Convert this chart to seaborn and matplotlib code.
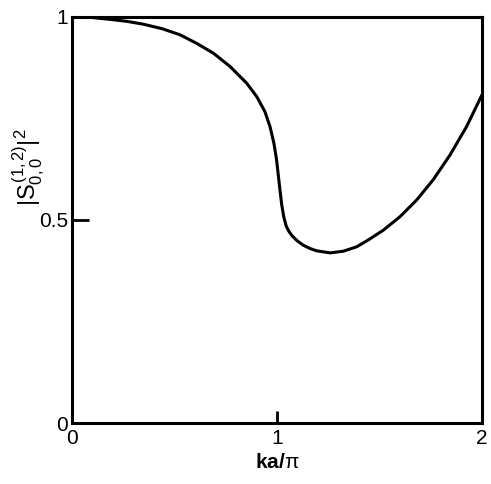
import numpy as np
import pandas as pd
import seaborn as sns
import matplotlib
matplotlib.use("Agg")
import matplotlib.pyplot as plt

sns.set_style("ticks", {"xtick.direction": "in", "ytick.direction": "in",
                        "axes.edgecolor": "black", "text.color": "black",
                        "xtick.color": "black", "ytick.color": "black",
                        "axes.labelcolor": "black"})
plt.rcParams["font.family"] = ["Liberation Sans", "DejaVu Sans"]
plt.rcParams["mathtext.fontset"] = "custom"
plt.rcParams["mathtext.rm"] = "Liberation Sans"
plt.rcParams["mathtext.it"] = "Liberation Sans"

# |S_00^(1,2)|^2 versus ka/pi
ka_pi = [0.0, 0.09, 0.186, 0.27, 0.349, 0.44, 0.527, 0.608, 0.689, 0.771,
         0.852, 0.901, 0.941, 0.966, 0.985, 0.998, 1.011, 1.023, 1.033, 1.045,
         1.058, 1.072, 1.098, 1.128, 1.16, 1.194, 1.259, 1.323, 1.389, 1.446,
         1.519, 1.600, 1.681, 1.762, 1.844, 1.925, 2.0]
s2 = [1.0, 0.999, 0.994, 0.989, 0.982, 0.971, 0.956, 0.935, 0.911, 0.878,
      0.837, 0.804, 0.767, 0.730, 0.689, 0.648, 0.590, 0.538, 0.508, 0.485,
      0.472, 0.462, 0.449, 0.438, 0.430, 0.424, 0.419, 0.423, 0.434, 0.451,
      0.475, 0.508, 0.549, 0.599, 0.660, 0.730, 0.808]

df = pd.DataFrame({"ka": ka_pi, "s": s2})

fig = plt.figure(figsize=(4.91, 4.84), dpi=100)
ax = fig.add_axes([0.1466, 0.126, 0.835, 0.839])

sns.lineplot(data=df, x="ka", y="s", sort=False, estimator=None,
             color="black", linewidth=2.2, ax=ax,
             solid_joinstyle="round", solid_capstyle="round")

ax.set_xlim(0, 2)
ax.set_ylim(0, 1)
ax.set_xticks([0, 1, 2])
ax.set_xticklabels(["0", "1", "2"])
ax.set_yticks([0, 0.5, 1])
ax.set_yticklabels(["0", "0.5", "1"])
ax.tick_params(axis="x", length=9, width=2, labelsize=15, pad=4)
ax.tick_params(axis="y", length=12, width=2, labelsize=15, pad=3)
for i in (0, 2):
    ax.xaxis.get_major_ticks()[i].tick1line.set_visible(False)
    ax.yaxis.get_major_ticks()[i].tick1line.set_visible(False)

for sp in ax.spines.values():
    sp.set_linewidth(2.2)
    sp.set_color("black")

ax.set_xlabel(r"ka/$\pi$", fontsize=15, fontweight="bold", labelpad=4)
ax.set_ylabel(r"$|S_{0,0}^{(1,2)}|^2$", fontsize=17)
ax.yaxis.set_label_coords(-0.06, 0.63)

fig.savefig("out.png", dpi=100)
plt.close(fig)
